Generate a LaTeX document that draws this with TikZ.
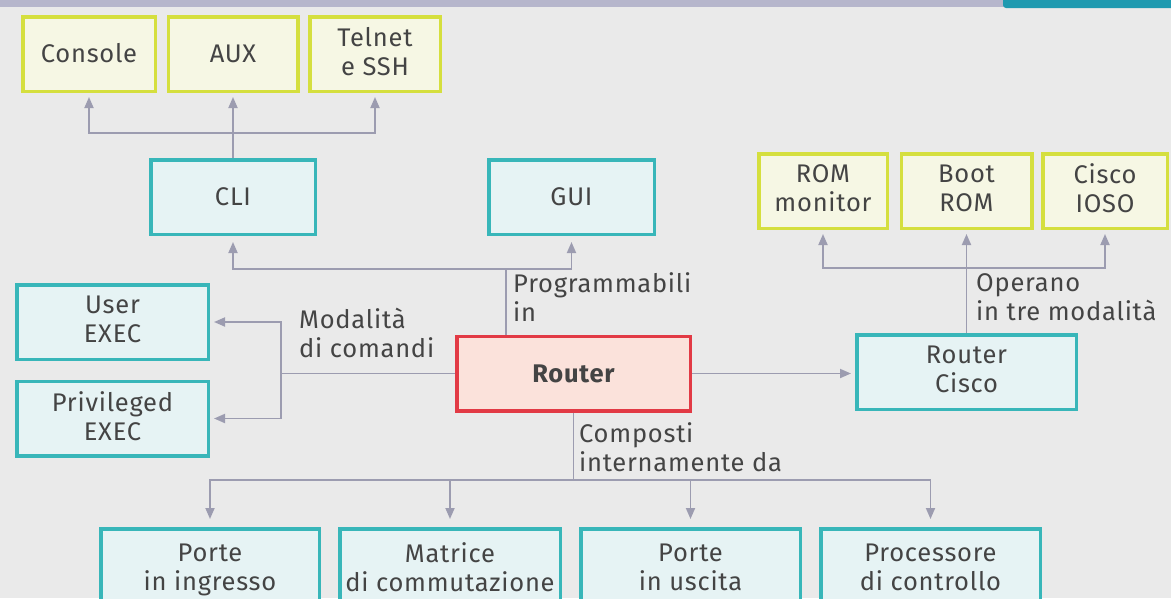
\documentclass[tikz,border=0pt]{standalone}
\usepackage{fontspec}
\setmainfont{Fira Sans}[LetterSpace=3]
\usetikzlibrary{arrows.meta}
\definecolor{bg}{HTML}{EAEAEA}
\definecolor{band}{HTML}{B6B6CC}
\definecolor{tab}{HTML}{1E9AB0}
\definecolor{ylw}{HTML}{D5DF3E}
\definecolor{ylwfill}{HTML}{F6F7E4}
\definecolor{teal}{HTML}{38B6B9}
\definecolor{tealfill}{HTML}{E6F3F4}
\definecolor{rd}{HTML}{E23A45}
\definecolor{rdfill}{HTML}{FBE2DB}
\definecolor{arr}{HTML}{9C9CB0}
\definecolor{txt}{HTML}{444444}
\newcommand\lblfont{\fontsize{25.5}{29}\selectfont}
\newcommand\mystrut{\rule[-5.7pt]{0pt}{29pt}}
\tikzset{
  boxbase/.style={line width=3.5pt, minimum height=74.5pt, inner sep=0pt, align=center, font=\lblfont, text=txt,
    execute at begin node=\mystrut, execute at end node=\mystrut},
  ybox/.style={boxbase, draw=ylw, fill=ylwfill},
  tbox/.style={boxbase, draw=teal, fill=tealfill},
  rbox/.style={boxbase, draw=rd, fill=rdfill},
  botbox/.style={tbox, minimum height=82.5pt},
  conn/.style={draw=arr, line width=1.8pt},
  arw/.style={conn, -{Triangle[length=11pt,width=9pt]}, shorten >=4pt},
  lbl/.style={font=\lblfont, text=txt, align=left, inner sep=0pt,
    execute at begin node=\mystrut, execute at end node=\mystrut}
}
\begin{document}
\begin{tikzpicture}[x=1pt,y=-1pt]
\path[use as bounding box, clip] (0,0) rectangle (1171,598);
\fill[bg] (0,0) rectangle (1171,598);
\fill[band] (0,0) rectangle (1171,7);
\fill[tab, rounded corners=3pt] (1003,-5) rectangle (1180,8);

% top-left yellow boxes
\node[ybox, minimum width=132.5pt] (console) at (89,54) {Console};
\node[ybox, minimum width=129.5pt] (aux) at (233,54) {AUX};
\node[ybox, minimum width=130.5pt] (telnet) at (375,54) {Telnet\\e SSH};

% CLI / GUI
\node[tbox, minimum width=164.5pt] (cli) at (233,197) {CLI};
\node[tbox, minimum width=165.5pt] (gui) at (571.5,197) {GUI};

% top-right yellow boxes
\node[ybox, minimum width=128.5pt] (rommon) at (823,191) {ROM\\monitor};
\node[ybox, minimum width=130.5pt] (bootrom) at (966.5,191) {Boot\\ROM};
\node[ybox, minimum width=124.5pt] (ios) at (1105,191) {Cisco\\IOSO};

% left teal boxes
\node[tbox, minimum width=191.5pt] (user) at (112.5,322) {User\\EXEC};
\node[tbox, minimum width=191.5pt] (priv) at (112.5,418.5) {Privileged\\EXEC};

% router
\node[rbox, minimum width=233.5pt, font=\lblfont\bfseries] (router) at (573.5,373.5) {Router};
\node[tbox, minimum width=219.5pt] (rcisco) at (966.5,372) {Router\\Cisco};

% bottom boxes
\node[botbox, minimum width=218.5pt] (pin) at (210,570) {Porte\\in ingresso};
\node[botbox, minimum width=220.5pt] (mat) at (450,570) {Matrice\\di commutazione};
\node[botbox, minimum width=219.5pt] (pout) at (690.5,570) {Porte\\in uscita};
\node[botbox, minimum width=219.5pt] (proc) at (930.5,570) {Processore\\di controllo};

% connectors: CLI -> access
\coordinate (j1) at (233,133);
\draw[conn] (cli.north) -- (j1);
\draw[arw] (j1) -| (console.south);
\draw[arw] (j1) -- (aux.south);
\draw[arw] (j1) -| (telnet.south);

% router -> CLI/GUI
\coordinate (r1) at (506,269);
\draw[conn] (router.north -| r1) -- (r1);
\draw[arw, shorten >=6pt] (r1) -| (cli.south);
\draw[arw, shorten >=6pt] (r1) -| (gui.south);
\node[lbl, anchor=west] (tprog) at (513,300) {Programmabili\\in};

% router -> modes
\coordinate (l1) at (281,373.5);
\draw[conn] (router.west) -- (l1);
\draw[arw] (l1) |- (user.east);
\draw[arw] (l1) |- (priv.east);
\node[lbl, anchor=west] (tmod) at (299,336) {Modalità\\di comandi};

% router -> components
\coordinate (b1) at (573.5,480);
\draw[conn] (router.south) -- (b1);
\draw[arw, shorten >=8pt] (b1) -| (pin.north);
\draw[arw, shorten >=8pt] (b1) -| (mat.north);
\draw[arw, shorten >=8pt] (b1) -| (pout.north);
\draw[arw, shorten >=8pt] (b1) -| (proc.north);
\node[lbl, anchor=west] (tcomp) at (579,449.5) {Composti\\internamente da};

% router -> router cisco
\draw[arw] (router.east) -- (router.east -| rcisco.west);

% router cisco -> modes
\coordinate (c1) at (966.5,268);
\draw[conn] (rcisco.north) -- (c1);
\draw[arw] (c1) -| (rommon.south);
\draw[arw] (c1) -- (bootrom.south);
\draw[arw] (c1) -| (ios.south);
\node[lbl, anchor=west] (tope) at (976,300) {Operano\\in tre modalità};
\end{tikzpicture}
\end{document}
